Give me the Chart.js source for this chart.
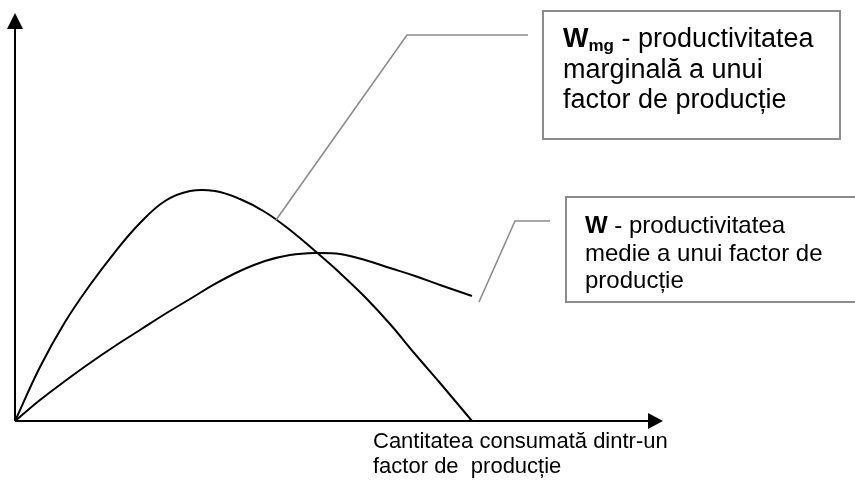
<!DOCTYPE html>
<html>
<head>
<meta charset="utf-8">
<script src="https://cdn.jsdelivr.net/npm/chart.js@4.4.0/dist/chart.umd.min.js"></script>
<style>
  html, body { margin: 0; padding: 0; background: #fff; }
  #wrap { width: 855px; height: 483px; position: relative; }
</style>
</head>
<body>
<div id="wrap"><canvas id="c" width="855" height="483"></canvas></div>
<script>
// Quantity of the factor (x) and productivity values (y)
const quantity = [0, 3.86, 7.72, 11.57, 15.43, 19.29, 23.15, 27.01, 30.86, 34.72, 38.58, 42.44, 46.30, 50.15, 54.01, 57.87, 61.73, 65.59, 70.52];
const marginalW = [0, 13.24, 24.26, 33.33, 41.42, 48.53, 53.92, 56.37, 56.37, 54.41, 51.23, 46.81, 41.67, 36.27, 30.39, 23.77, 16.42, 9.31, 0];
const averageW  = [0, 5.15, 9.80, 14.22, 18.38, 22.30, 26.23, 29.90, 33.58, 36.76, 39.22, 40.69, 41.18, 40.93, 39.46, 37.50, 35.54, 33.33, 30.64];

const xAxisTitle = ["Cantitatea consumată dintr-un", "factor de  producție"];
const boxMarginalLines = ["marginală a unui", "factor de producție"];
const boxAverageLines = ["medie a unui factor de", "producție"];

const FONT = '"Liberation Sans", Arial, sans-serif';

function toPts(xs, ys) { return xs.map((x, i) => ({ x: x, y: ys[i] })); }

const decor = {
  id: 'decor',
  afterDatasetsDraw(chart) {
    const ctx = chart.ctx;
    const xs = chart.scales.x, ys = chart.scales.y;
    const x0 = xs.getPixelForValue(0), y0 = ys.getPixelForValue(0);
    const xMax = xs.getPixelForValue(100), yMax = ys.getPixelForValue(100);
    ctx.save();
    // axes
    ctx.strokeStyle = '#000';
    ctx.fillStyle = '#000';
    ctx.lineWidth = 2;
    ctx.beginPath();
    ctx.moveTo(x0, y0); ctx.lineTo(x0, yMax + 16);
    ctx.moveTo(x0, y0); ctx.lineTo(xMax - 15, y0);
    ctx.stroke();
    ctx.beginPath();
    ctx.moveTo(x0, yMax); ctx.lineTo(x0 - 8, yMax + 16); ctx.lineTo(x0 + 8, yMax + 16); ctx.closePath();
    ctx.fill();
    ctx.beginPath();
    ctx.moveTo(xMax, y0); ctx.lineTo(xMax - 15, y0 - 8); ctx.lineTo(xMax - 15, y0 + 8); ctx.closePath();
    ctx.fill();

    // leader lines
    ctx.strokeStyle = '#8c8c8c';
    ctx.lineWidth = 1.6;
    ctx.beginPath();
    ctx.moveTo(276, 220); ctx.lineTo(407, 35); ctx.lineTo(528, 35);
    ctx.moveTo(479, 302); ctx.lineTo(515, 221); ctx.lineTo(550, 221);
    ctx.stroke();

    // boxes
    ctx.fillStyle = '#fff';
    ctx.strokeStyle = '#8c8c8c';
    ctx.lineWidth = 2;
    ctx.fillRect(543, 11, 297, 128);
    ctx.strokeRect(543, 11, 297, 128);
    ctx.fillRect(566, 197, 300, 105);
    ctx.strokeRect(566, 197, 300, 105);

    // box 1 text
    ctx.fillStyle = '#000';
    ctx.textBaseline = 'alphabetic';
    ctx.textAlign = 'left';
    let tx = 563;
    ctx.font = 'bold 27px ' + FONT;
    ctx.fillText('W', tx, 47); tx += ctx.measureText('W').width;
    ctx.font = 'bold 17px ' + FONT;
    ctx.fillText('mg', tx, 51); tx += ctx.measureText('mg').width;
    ctx.font = '27px ' + FONT;
    ctx.fillText(' - productivitatea', tx, 47);
    ctx.fillText(boxMarginalLines[0], 563, 78);
    ctx.fillText(boxMarginalLines[1], 563, 108);

    // box 2 text
    tx = 585;
    ctx.font = 'bold 24px ' + FONT;
    ctx.fillText('W', tx, 233); tx += ctx.measureText('W').width;
    ctx.font = '24px ' + FONT;
    ctx.fillText(' - productivitatea', tx, 233);
    ctx.fillText(boxAverageLines[0], 585, 261);
    ctx.fillText(boxAverageLines[1], 585, 288);

    // x axis title
    ctx.font = '22px ' + FONT;
    ctx.fillText(xAxisTitle[0], 373, 448);
    ctx.fillText(xAxisTitle[1], 373, 473);
    ctx.restore();
  }
};

new Chart(document.getElementById('c'), {
  type: 'line',
  data: {
    datasets: [
      { label: 'Wmg', data: toPts(quantity, marginalW), borderColor: '#000', borderWidth: 2,
        pointRadius: 0, tension: 0.4, fill: false },
      { label: 'W', data: toPts(quantity, averageW), borderColor: '#000', borderWidth: 2,
        pointRadius: 0, tension: 0.4, fill: false }
    ]
  },
  options: {
    responsive: false,
    devicePixelRatio: 1,
    animation: false,
    layout: { padding: { left: 15, top: 13, right: 192, bottom: 62 } },
    plugins: { legend: { display: false }, tooltip: { enabled: false } },
    scales: {
      x: { type: 'linear', min: 0, max: 100, display: false },
      y: { type: 'linear', min: 0, max: 100, display: false }
    }
  },
  plugins: [decor]
});
</script>
</body>
</html>
